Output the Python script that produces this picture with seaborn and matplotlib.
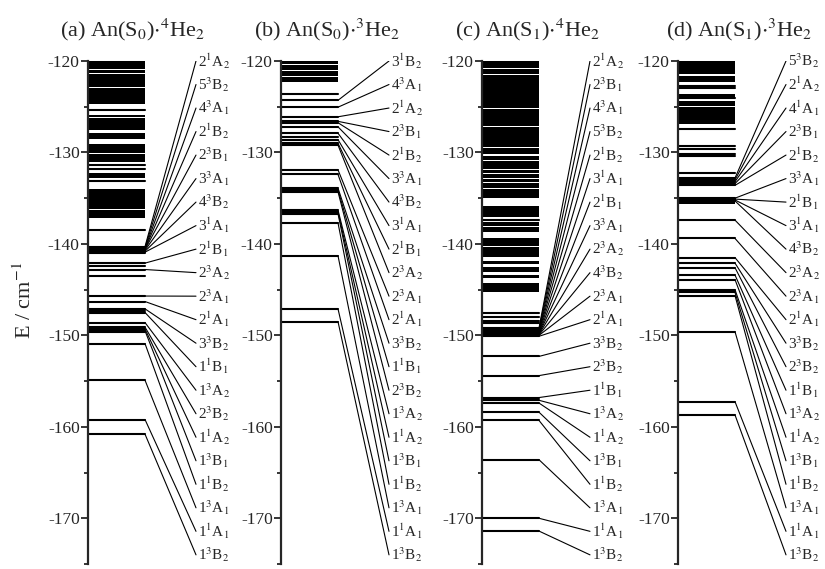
import numpy as np
import pandas as pd
import matplotlib
matplotlib.use("Agg")
import matplotlib.pyplot as plt
from matplotlib.ticker import MultipleLocator
import seaborn as sns

# ---- data (energies in cm^-1) ----
titles = ["(a) An(S$_0$)$\\cdot$$^4$He$_2$", "(b) An(S$_0$)$\\cdot$$^3$He$_2$",
          "(c) An(S$_1$)$\\cdot$$^4$He$_2$", "(d) An(S$_1$)$\\cdot$$^3$He$_2$"]

labels_a = ["2$^1$A$_2$", "5$^3$B$_2$", "4$^3$A$_1$", "2$^1$B$_2$", "2$^3$B$_1$", "3$^3$A$_1$",
            "4$^3$B$_2$", "3$^1$A$_1$", "2$^1$B$_1$", "2$^3$A$_2$", "2$^3$A$_1$", "2$^1$A$_1$",
            "3$^3$B$_2$", "1$^1$B$_1$", "1$^3$A$_2$", "2$^3$B$_2$", "1$^1$A$_2$", "1$^3$B$_1$",
            "1$^1$B$_2$", "1$^3$A$_1$", "1$^1$A$_1$", "1$^3$B$_2$"]
levels_a = [-140.3, -140.4, -140.5, -140.55, -140.6, -140.7, -140.8, -140.9, -142.1, -142.8,
            -145.7, -146.3, -147.1, -147.5, -148.6, -149.1, -149.3, -149.5, -150.9, -154.9,
            -159.2, -160.8]
extra_a = [-125.4, -131.4, -131.8, -133.1, -138.5, -141.0, -142.4, -143.5, -147.3, -149.6]
bands_a = [(-120.0, -120.85), (-120.95, -121.3), (-121.45, -122.8), (-122.95, -124.7),
           (-125.85, -126.15), (-126.25, -126.95), (-127.05, -127.5), (-127.9, -128.55),
           (-129.05, -130.05), (-130.15, -131.05), (-132.25, -132.8), (-133.95, -136.15),
           (-136.25, -137.15), (-140.2, -140.9)]

labels_b = ["3$^1$B$_2$", "4$^3$A$_1$", "2$^1$A$_2$", "2$^3$B$_1$", "2$^1$B$_2$", "3$^3$A$_1$",
            "4$^3$B$_2$", "3$^1$A$_1$", "2$^1$B$_1$", "2$^3$A$_2$", "2$^3$A$_1$", "2$^1$A$_1$",
            "3$^3$B$_2$", "1$^1$B$_1$", "2$^3$B$_2$", "1$^3$A$_2$", "1$^1$A$_2$", "1$^3$B$_1$",
            "1$^1$B$_2$", "1$^3$A$_1$", "1$^1$A$_1$", "1$^3$B$_2$"]
levels_b = [-124.3, -125.05, -126.1, -126.6, -126.75, -127.2, -127.9, -128.6, -129.0, -129.2,
            -131.9, -132.4, -133.9, -134.1, -134.3, -136.3, -136.5, -136.7, -137.7, -141.3,
            -147.1, -148.5]
extra_b = [-123.6, -128.3]
bands_b = [(-120.0, -120.3), (-120.4, -120.95), (-121.05, -121.6), (-121.7, -122.3)]

labels_c = ["2$^1$A$_2$", "2$^3$B$_1$", "4$^3$A$_1$", "5$^3$B$_2$", "2$^1$B$_2$", "3$^1$A$_1$",
            "2$^1$B$_1$", "3$^3$A$_1$", "2$^3$A$_2$", "4$^3$B$_2$", "2$^3$A$_1$", "2$^1$A$_1$",
            "3$^3$B$_2$", "2$^3$B$_2$", "1$^1$B$_1$", "1$^3$A$_2$", "1$^1$A$_2$", "1$^3$B$_1$",
            "1$^1$B$_2$", "1$^3$A$_1$", "1$^1$A$_1$", "1$^3$B$_2$"]
levels_c = [-149.2, -149.3, -149.4, -149.5, -149.6, -149.7, -149.8, -149.85, -149.9, -149.95,
            -150.0, -150.1, -152.3, -154.4, -156.8, -157.1, -157.4, -158.4, -159.3, -163.6,
            -170.0, -171.4]
extra_c = [-137.35, -147.5, -148.0, -148.4, -148.7]
bands_c = [(-120.0, -120.75), (-120.85, -121.45), (-121.55, -125.15), (-125.25, -127.15),
           (-127.25, -129.45), (-129.55, -130.2), (-130.35, -130.8), (-130.9, -131.85),
           (-131.95, -132.25), (-132.35, -132.75), (-132.85, -133.25), (-133.35, -133.85),
           (-133.95, -134.95), (-135.85, -137.1), (-137.55, -138.05), (-138.15, -138.75),
           (-139.3, -140.2), (-140.3, -141.45), (-141.85, -142.2), (-142.55, -143.05),
           (-143.35, -143.75), (-144.25, -145.3), (-149.1, -149.45)]

labels_d = ["5$^3$B$_2$", "2$^1$A$_2$", "4$^1$A$_1$", "2$^3$B$_1$", "2$^1$B$_2$", "3$^3$A$_1$",
            "2$^1$B$_1$", "3$^1$A$_1$", "4$^3$B$_2$", "2$^3$A$_2$", "2$^3$A$_1$", "2$^1$A$_1$",
            "3$^3$B$_2$", "2$^3$B$_2$", "1$^1$B$_1$", "1$^3$A$_2$", "1$^1$A$_2$", "1$^3$B$_1$",
            "1$^1$B$_2$", "1$^3$A$_1$", "1$^1$A$_1$", "1$^3$B$_2$"]
levels_d = [-132.8, -133.0, -133.2, -133.4, -133.6, -135.0, -135.1, -135.2, -135.3, -137.4,
            -139.4, -141.5, -142.1, -142.6, -143.4, -143.9, -145.0, -145.3, -145.65, -149.6,
            -157.25, -158.7]
extra_d = [-122.7, -123.0, -124.1, -127.45, -129.3, -129.6, -130.2, -130.35, -132.3]
bands_d = [(-120.0, -121.4), (-121.6, -122.35), (-123.6, -123.95), (-124.4, -124.95),
           (-125.05, -125.85), (-125.95, -126.85), (-134.9, -135.6)]

# ---- style ----
sns.set_style("ticks")
plt.rcParams['font.family'] = ['Liberation Serif', 'DejaVu Serif']
plt.rcParams['mathtext.fontset'] = 'stix'
plt.rcParams['axes.unicode_minus'] = False

LEVEL_END = 0.38
LINE_END = 0.72

fig = plt.figure(figsize=(8.25, 5.69), dpi=100)
spine_px = [88, 281, 482, 678]
title_px = [133, 327, 528, 739]
panels = [(labels_a, levels_a, extra_a, bands_a), (labels_b, levels_b, extra_b, bands_b),
          (labels_c, levels_c, extra_c, bands_c), (labels_d, levels_d, extra_d, bands_d)]

for k, (labels, levels, extra, bands) in enumerate(panels):
    ax = fig.add_axes([spine_px[k] / 825, 1 - 564 / 569, 150 / 825, (564 - 61) / 569])
    ax.patch.set_alpha(0)

    # energy levels
    rows = []
    for i, e in enumerate(list(levels) + list(extra)):
        rows += [(i, 0.0, e), (i, LEVEL_END, e)]
    lv = pd.DataFrame(rows, columns=['unit', 'x', 'E'])
    sns.lineplot(data=lv, x='x', y='E', units='unit', estimator=None, color='black',
                 lw=1.5, ax=ax, legend=False)
    # dense groups of levels that merge into black blocks
    for top, bot in bands:
        ax.fill_between([0, LEVEL_END], top, bot, color='black', lw=0)

    # connectors to the state labels
    label_pos = np.linspace(-120, -174, len(labels))
    rows = []
    for i, (e, ly) in enumerate(zip(levels, label_pos)):
        rows += [(i, LEVEL_END, e), (i, LINE_END, ly)]
    cn = pd.DataFrame(rows, columns=['unit', 'x', 'E'])
    sns.lineplot(data=cn, x='x', y='E', units='unit', estimator=None, color='black',
                 lw=0.8, ax=ax, legend=False, sort=False)
    for lab, ly in zip(labels, label_pos):
        ax.text(LINE_END + 0.012, ly, lab, ha='left', va='center', fontsize=11, clip_on=False)

    ax.set_xlim(0, 1)
    ax.set_ylim(-175, -120)
    ax.set_yticks(np.arange(-170, -119, 10))
    ax.yaxis.set_minor_locator(MultipleLocator(5))
    ax.tick_params(axis='y', which='major', labelsize=12.5, length=5, width=1.3, pad=1)
    ax.tick_params(axis='y', which='minor', length=3, width=1.3)
    ax.set_xticks([])
    ax.set_xlabel('')
    ax.set_ylabel('')
    sns.despine(ax=ax, bottom=True)
    ax.spines['left'].set_linewidth(1.6)

    fig.text(title_px[k] / 825, 1 - 30 / 569, titles[k], ha='center', va='center', fontsize=16)

fig.text(25 / 825, 1 - 300 / 569, "E / cm$^{-1}$", rotation=90, ha='center', va='center',
         fontsize=16)

fig.savefig("out.png", dpi=100)
